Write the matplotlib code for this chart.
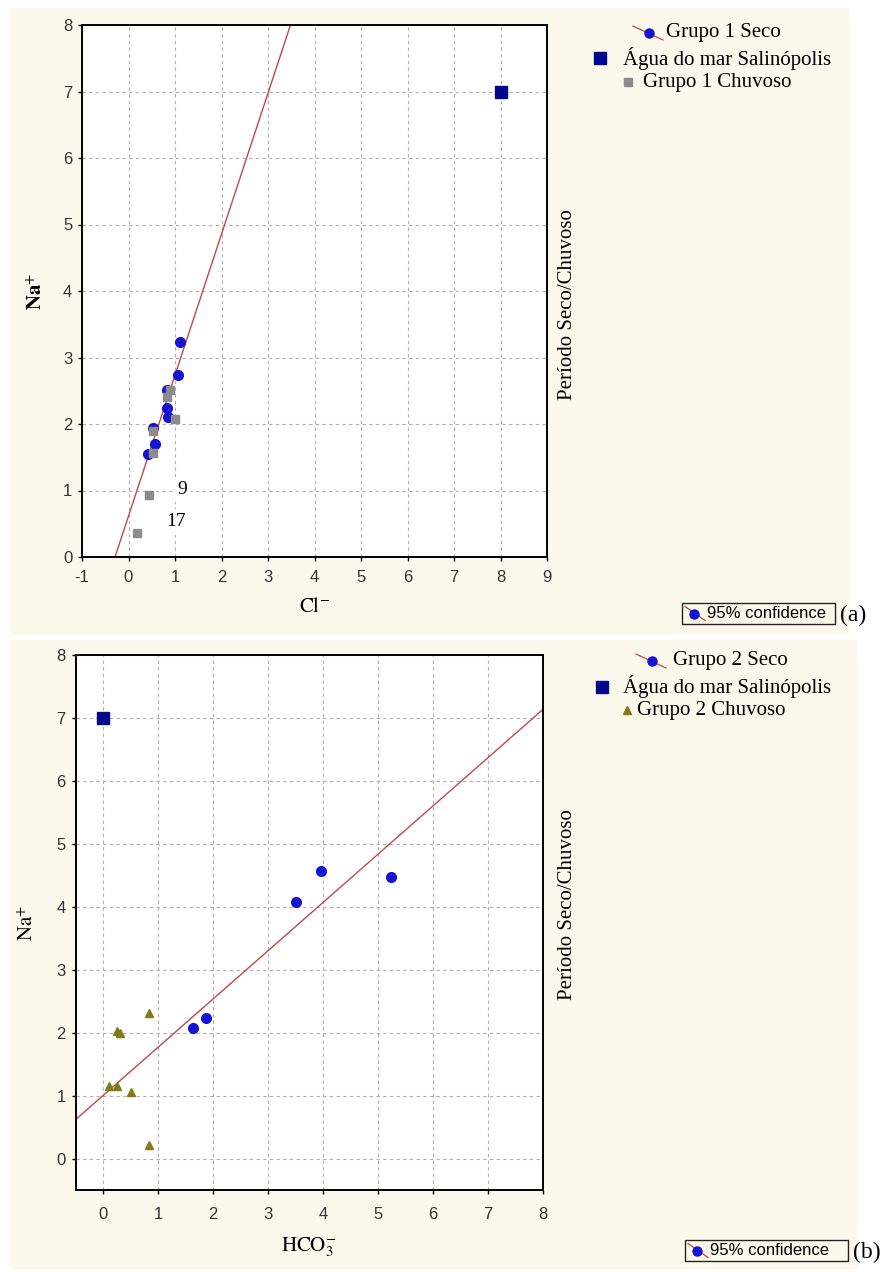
import matplotlib
matplotlib.use("Agg")
import matplotlib.pyplot as plt
from matplotlib.lines import Line2D
from matplotlib.patches import Rectangle
import numpy as np

plt.rcParams['mathtext.fontset'] = 'stix'
plt.rcParams['axes.unicode_minus'] = False

# --- Grupo 1 (Cl- x Na+) ---
g1_seco_cl = [1.10, 1.06, 0.82, 0.82, 0.85, 0.52, 0.57, 0.42]
g1_seco_na = [3.23, 2.74, 2.51, 2.24, 2.11, 1.94, 1.70, 1.55]
g1_chuv_cl = [0.89, 0.82, 1.00, 0.52, 0.52, 0.44, 0.18]
g1_chuv_na = [2.51, 2.41, 2.07, 1.89, 1.56, 0.93, 0.36]
g1_fit = (0.615, 2.12)   # intercept, slope
g1_labels = [("9", 0.44, 0.93, 24, 4), ("17", 0.18, 0.36, 28, 8)]

# --- Grupo 2 (HCO3- x Na+) ---
g2_seco_hco3 = [3.51, 3.96, 5.24, 1.64, 1.87]
g2_seco_na = [4.08, 4.57, 4.48, 2.08, 2.24]
g2_chuv_hco3 = [0.25, 0.31, 0.84, 0.11, 0.25, 0.50, 0.84]
g2_chuv_na = [2.02, 2.00, 2.32, 1.16, 1.16, 1.06, 0.21]
g2_fit = (1.0, 0.767)

# Agua do mar Salinopolis
mar_g1 = (8.0, 7.0)
mar_g2 = (0.0, 7.0)

W, H = 884, 1272
fig = plt.figure(figsize=(W / 100, H / 100), dpi=100, facecolor='white')

cream = '#FCF8EC'
blue = '#1414D2'
navy = '#00088C'
grey = '#8C8C8C'
olive = '#807A18'
red = '#C04848'
tickc = '#333333'
serif = 'Liberation Serif'


def fx(px):
    return px / W


def fy(py):
    return 1 - py / H


# panel backgrounds, kept behind the axes
fig.patches.append(Rectangle((fx(10), fy(634)), fx(848) - fx(10), fy(8) - fy(634),
                             transform=fig.transFigure, color=cream, zorder=-5))
fig.patches.append(Rectangle((fx(10), fy(1268)), fx(856) - fx(10), fy(640) - fy(1268),
                             transform=fig.transFigure, color=cream, zorder=-5))


def style_axes(ax, xlim, ylim, xticks, yticks, xpad=4):
    ax.set_facecolor('white')
    ax.set_xlim(*xlim)
    ax.set_ylim(*ylim)
    ax.set_xticks(xticks)
    ax.set_yticks(yticks)
    ax.grid(True, color='#AEAEAE', linestyle=(0, (3, 3)), linewidth=0.8)
    ax.set_axisbelow(True)
    for s in ax.spines.values():
        s.set_linewidth(1.4)
    ax.tick_params(direction='out', length=3, width=1, labelsize=12,
                   labelcolor=tickc, pad=4)
    ax.tick_params(axis='x', pad=xpad)
    for lab in ax.get_xticklabels() + ax.get_yticklabels():
        lab.set_fontfamily('Liberation Sans')


def draw_fit(ax, fit, xlim):
    xs = np.array(xlim)
    ax.plot(xs, fit[0] + fit[1] * xs, color=red, lw=1.0, zorder=2)


# ---------- (a) ----------
ax1 = fig.add_axes([fx(82), fy(557), fx(547) - fx(82), fy(25) - fy(557)])
style_axes(ax1, (-1, 9), (0, 8), range(-1, 10), range(0, 9), xpad=6)
draw_fit(ax1, g1_fit, (-1, 9))
ax1.plot(g1_seco_cl, g1_seco_na, 'o', color=blue, ms=7, zorder=3)
ax1.plot(g1_chuv_cl, g1_chuv_na, 's', color=grey, ms=6, zorder=4)
ax1.plot(*mar_g1, 's', color=navy, ms=9, zorder=4)
for txt, x, y, dx, dy in g1_labels:
    ax1.annotate(txt, (x, y), xytext=(dx, dy), textcoords='offset points',
                 ha='center', va='center', fontsize=14, family=serif,
                 bbox=dict(facecolor='white', edgecolor='none', pad=3), zorder=5)
ax1.set_xlabel(r'$\mathrm{Cl}^{-}$', fontsize=15, labelpad=8)
ax1.set_ylabel(r'$\mathbf{Na}^{+}$', fontsize=15, labelpad=12)

# ---------- (b) ----------
ax2 = fig.add_axes([fx(75.5), fy(1190), fx(543) - fx(75.5), fy(655) - fy(1190)])
style_axes(ax2, (-0.5, 8), (-0.5, 8), range(0, 9), range(0, 9), xpad=9)
draw_fit(ax2, g2_fit, (-0.5, 8))
ax2.plot(g2_seco_hco3, g2_seco_na, 'o', color=blue, ms=7, zorder=3)
ax2.plot(g2_chuv_hco3, g2_chuv_na, '^', color=olive, ms=6, zorder=4)
ax2.plot(*mar_g2, 's', color=navy, ms=9, zorder=4)
ax2.set_xlabel(r'$\mathrm{HCO}_{3}^{-}$', fontsize=15, labelpad=10)
ax2.set_ylabel(r'$\mathrm{Na}^{+}$', fontsize=15, labelpad=14)


def legend_rows(rows):
    for kind, mx, my, tx, text in rows:
        if kind == 'fit':
            fig.add_artist(Line2D([fx(mx - 16), fx(mx + 14)], [fy(my - 7), fy(my + 7)],
                                  color=red, lw=0.9, transform=fig.transFigure))
            fig.add_artist(Line2D([fx(mx)], [fy(my)], marker='o', ms=6.5, color=blue,
                                  transform=fig.transFigure))
        else:
            marker, color, ms = kind
            fig.add_artist(Line2D([fx(mx)], [fy(my)], marker=marker, ms=ms, color=color,
                                  lw=0, transform=fig.transFigure))
        fig.text(fx(tx), fy(my), text, fontsize=15, family=serif, va='center', ha='left')


legend_rows([
    ('fit', 649, 33, 666, 'Grupo 1 Seco'),
    (('s', navy, 8), 600, 58, 623, 'Água do mar Salinópolis'),
    (('s', grey, 5.5), 628, 82, 643, 'Grupo 1 Chuvoso'),
])
legend_rows([
    ('fit', 652, 661, 673, 'Grupo 2 Seco'),
    (('s', navy, 8), 602, 687, 623, 'Água do mar Salinópolis'),
    (('^', olive, 5.5), 627, 710, 637, 'Grupo 2 Chuvoso'),
])

# right-hand period labels
fig.text(fx(568), fy(305), 'Período Seco/Chuvoso', rotation=90, fontsize=15,
         family=serif, ha='center', va='center')
fig.text(fx(568), fy(905), 'Período Seco/Chuvoso', rotation=90, fontsize=15,
         family=serif, ha='center', va='center')


def conf_box(x0, y0, x1, y1, tag):
    fig.patches.append(Rectangle((fx(x0), fy(y1)), fx(x1) - fx(x0), fy(y0) - fy(y1),
                                 transform=fig.transFigure, facecolor='none',
                                 edgecolor='#222222', lw=1.0, zorder=3))
    ym = (y0 + y1) / 2
    mx = x0 + 12
    fig.add_artist(Line2D([fx(x0 + 3), fx(x0 + 23)], [fy(ym - 7), fy(ym + 7)],
                          color=red, lw=0.9, transform=fig.transFigure))
    fig.add_artist(Line2D([fx(mx)], [fy(ym)], marker='o', ms=6.5, color=blue,
                          transform=fig.transFigure))
    fig.text(fx(x0 + 25), fy(ym), '95% confidence', fontsize=12,
             family='Liberation Sans', va='center', ha='left')
    fig.text(fx(x1 + 5), fy(ym + 2), tag, fontsize=17, family=serif,
             va='center', ha='left')


conf_box(682, 603, 835, 624, '(a)')
conf_box(685, 1240, 848, 1261, '(b)')

fig.savefig('out.png', dpi=100, facecolor=fig.get_facecolor())
